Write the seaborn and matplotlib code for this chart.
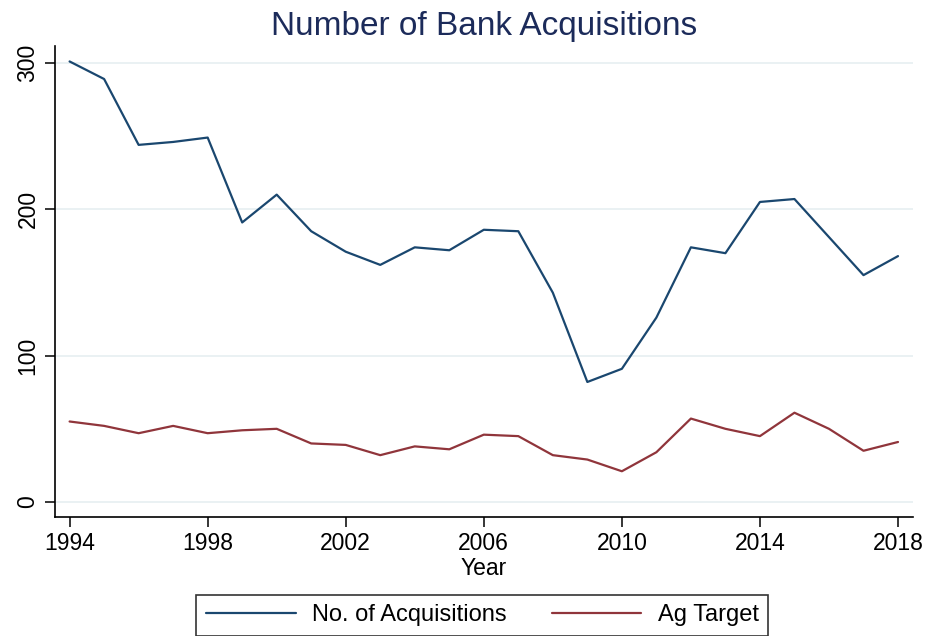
import pandas as pd
import matplotlib
matplotlib.use("Agg")
import matplotlib.pyplot as plt
import seaborn as sns

years = list(range(1994, 2019))
acquisitions = [301, 289, 244, 246, 249, 191, 210, 185, 171, 162, 174, 172,
                186, 185, 143, 82, 91, 126, 174, 170, 205, 207, 181, 155, 168]
ag_target = [55, 52, 47, 52, 47, 49, 50, 40, 39, 32, 38, 36,
             46, 45, 32, 29, 21, 34, 57, 50, 45, 61, 50, 35, 41]
series_names = ["No. of Acquisitions", "Ag Target"]
x_ticks = [1994, 1998, 2002, 2006, 2010, 2014, 2018]
y_ticks = [0, 100, 200, 300]

df = pd.DataFrame({
    "Year": years * 2,
    "value": acquisitions + ag_target,
    "series": [series_names[0]] * len(years) + [series_names[1]] * len(years),
})

sns.set_style("white")
plt.rcParams["font.family"] = ["Liberation Sans", "DejaVu Sans"]

fig = plt.figure(figsize=(9.44, 6.36), dpi=100)
ax = fig.add_axes([0.058, 0.187, 0.909, 0.741])

palette = {series_names[0]: "#1a476f", series_names[1]: "#90353b"}
sns.lineplot(data=df, x="Year", y="value", hue="series", palette=palette,
             linewidth=1.6, ax=ax, legend=False)

ax.set_xlim(1993.57, 2018.43)
ax.set_ylim(-10.3, 311.7)
ax.set_xticks(x_ticks)
ax.set_yticks(y_ticks)
ax.tick_params(axis="both", which="major", bottom=True, left=True,
               labelsize=16.5, labelcolor="black", length=7, width=1.1,
               color="black", direction="out", pad=4)
for lab in ax.get_yticklabels():
    lab.set_rotation(90)
    lab.set_va("center")
ax.grid(axis="y", color="#e6eff1", linewidth=1.2)
ax.grid(axis="x", visible=False)
sns.despine(ax=ax)
for side in ["left", "bottom"]:
    ax.spines[side].set_color("black")
    ax.spines[side].set_linewidth(1.2)

ax.set_xlabel("Year", fontsize=16.5, color="black", labelpad=1)
ax.set_ylabel("")
ax.set_title("Number of Bank Acquisitions", fontsize=24, color="#1c2b5a", pad=8)

handles = [plt.Line2D([], [], color=palette[n], linewidth=1.6) for n in series_names]
leg = fig.legend(handles, series_names, loc="upper center", ncol=2,
                 bbox_to_anchor=(0.511, 0.0645), fontsize=17, frameon=True,
                 fancybox=False, edgecolor="black", handlelength=3.8,
                 handletextpad=0.7, columnspacing=1.9, borderpad=0.4,
                 borderaxespad=0)
leg.get_frame().set_linewidth(1.2)
for t in leg.get_texts():
    t.set_color("black")

fig.savefig("out.png", dpi=100)
